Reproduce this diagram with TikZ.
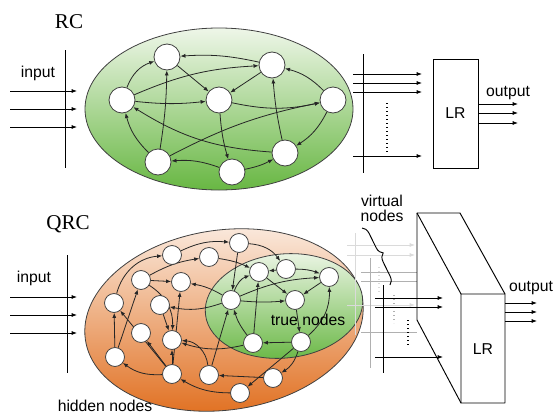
\documentclass[tikz,border=0pt]{standalone}
\usepackage{fontspec}
\setmainfont{Liberation Serif}
\setsansfont{Liberation Sans}
\usetikzlibrary{arrows.meta,decorations.pathreplacing}
\pgfdeclarelayer{bg}
\pgfdeclarelayer{edges}
\pgfsetlayers{bg,edges,main}
\definecolor{gtop}{HTML}{EEF6E8}
\definecolor{gbot}{HTML}{68B743}
\definecolor{otop}{HTML}{FBEDE3}
\definecolor{obot}{HTML}{E06D1C}
\definecolor{lgA}{HTML}{DADADA}
\definecolor{lgB}{HTML}{B0B0B0}
\tikzset{
  rcn/.style={circle, draw=black!75, fill=white, line width=0.6pt, minimum size=19.5pt, inner sep=0pt},
  qn/.style={circle, draw=black!75, fill=white, line width=0.6pt, minimum size=14.2pt, inner sep=0pt},
  edge/.style={draw=black!85, line width=0.6pt, -{Latex[length=3.8pt,width=3pt]}},
  arr/.style={line width=0.6pt, -{Latex[length=4pt,width=3pt]}},
  lbl/.style={font=\sffamily\fontsize{11.8}{9}\selectfont, inner sep=0pt},
  ttl/.style={font=\rmfamily\fontsize{15.8}{17}\selectfont, inner sep=0pt},
  bar/.style={line width=0.6pt},
}
\begin{document}
\begin{tikzpicture}[x=0.75pt,y=-0.75pt]
\useasboundingbox (0,0) rectangle (553,414);

% ---------- ellipses ----------
\begin{pgfonlayer}{bg}
\draw[black!75, line width=0.6pt, top color=gtop, bottom color=gbot]
  (219,109) ellipse [x radius=100.5pt, y radius=60.75pt];
\draw[black!75, line width=0.6pt, top color=otop, bottom color=obot, rotate around={8:(224,320)}]
  (224,320) ellipse [x radius=105pt, y radius=67.5pt];
\draw[black!75, line width=0.6pt, top color=gtop, bottom color=gbot, rotate around={6:(284,306)}]
  (284,306) ellipse [x radius=59.25pt, y radius=39pt];
\end{pgfonlayer}

% ---------- titles and labels ----------
\node[ttl] (tRC) at (69,22) {RC};
\node[ttl] (tQRC) at (68,224) {QRC};
\node[lbl] (in1) at (38,73) {input};
\node[lbl] (in2) at (34,278) {input};
\node[lbl] (out1) at (508,93) {output};
\node[lbl] (out2) at (531,288) {output};
\node[lbl] (tn) at (308,320) {true nodes};
\node[lbl] (hn) at (105,406) {hidden nodes};
\node[lbl, anchor=base] (vn1) at (382,206.5) {virtual};
\node[lbl, anchor=base] (vn2) at (382,221.5) {nodes};

% ---------- RC input ----------
\coordinate (iv1a) at (65,50); \coordinate (iv1b) at (65,168);
\draw[bar] (iv1a) -- (iv1b);
\foreach \y [count=\i] in {91,109,127} {
  \coordinate (ia\i) at (10,\y); \coordinate (ib\i) at (77,\y);
  \draw[arr] (ia\i) -- (ib\i);
}
% ---------- QRC input ----------
\coordinate (iv2a) at (67,255); \coordinate (iv2b) at (67,373);
\draw[bar] (iv2a) -- (iv2b);
\foreach \y [count=\i] in {297,315,333} {
  \coordinate (ja\i) at (10,\y); \coordinate (jb\i) at (77,\y);
  \draw[arr] (ja\i) -- (jb\i);
}

% ---------- RC readout ----------
\coordinate (rv1) at (363,54); \coordinate (rv2) at (363,173);
\draw[bar] (rv1) -- (rv2);
\foreach \y [count=\i] in {74,83,92,156} {
  \coordinate (ra\i) at (353,\y); \coordinate (rb\i) at (422,\y);
  \draw[arr] (ra\i) -- (rb\i);
}
\coordinate (rd1) at (387,103); \coordinate (rd2) at (387,154);
\draw[dotted, line width=1pt] (rd1) -- (rd2);
\node[draw, line width=0.6pt, minimum width=33.75pt, minimum height=81.75pt, inner sep=0pt, lbl] (lr1) at (455.5,113.5) {LR};
\foreach \y [count=\i] in {104,113,123} {
  \coordinate (ro\i) at (518,\y);
  \draw[arr] (ro\i -| lr1.east) -- (ro\i);
}

% ---------- QRC readout: back layers ----------
\coordinate (va1) at (355,233); \coordinate (va2) at (355,335);
\draw[lgA, bar] (va1) -- (va2);
\foreach \y [count=\i] in {245,255,305} {
  \coordinate (pa\i) at (347,\y); \coordinate (pb\i) at (415,\y);
  \draw[lgA, arr] (pa\i) -- (pb\i);
}
\coordinate (da1) at (379,267); \coordinate (da2) at (379,293);
\draw[lgA, dotted, line width=1pt] (da1) -- (da2);

\coordinate (vb1) at (370,258); \coordinate (vb2) at (370,368);
\draw[lgB, bar] (vb1) -- (vb2);
\foreach \y [count=\i] in {272,281,332} {
  \coordinate (qa\i) at (361,\y); \coordinate (qb\i) at (417,\y);
  \draw[lgB, bar] (qa\i) -- (qb\i);
}
\coordinate (db1) at (394,295); \coordinate (db2) at (394,323);
\draw[lgB, dotted, line width=1pt] (db1) -- (db2);

% ---------- LR slab ----------
\coordinate (s1) at (417,213); \coordinate (s2) at (460,213);
\coordinate (s3) at (505,294); \coordinate (s4) at (505,403);
\coordinate (s5) at (461,403); \coordinate (s6) at (417,320);
\coordinate (s7) at (461,294);
\draw[fill=white, line width=0.7pt, line join=round] (s1) -- (s2) -- (s3) -- (s4) -- (s5) -- (s6) -- cycle;
\draw[line width=0.7pt] (s1) -- (s7) -- (s3) (s7) -- (s5);
\node[lbl] (lr2) at (483,349) {LR};

% ---------- QRC readout: front layer ----------
\coordinate (vc1) at (383,285); \coordinate (vc2) at (383,373);
\draw[bar] (vc1) -- (vc2);
\foreach \y [count=\i] in {298,307,357} {
  \coordinate (fa\i) at (375,\y); \coordinate (fb\i) at (443,\y);
  \draw[arr] (fa\i) -- (fb\i);
}
\coordinate (dc1) at (408,320); \coordinate (dc2) at (408,348);
\draw[dotted, line width=1pt] (dc1) -- (dc2);
\foreach \y [count=\i] in {303,312,321} {
  \coordinate (so\i) at (537,\y);
  \draw[arr] (so\i -| s3) -- (so\i);
}

% brace
\coordinate (br1) at (362,228); \coordinate (br2) at (390,285);
\draw[decorate, decoration={brace, amplitude=6pt}, line width=0.7pt] (br1) -- (br2);

% ---------- RC nodes ----------
\node[rcn] (a1) at (167,57) {};
\node[rcn] (a2) at (272,65) {};
\node[rcn] (a3) at (122,100) {};
\node[rcn] (a4) at (219,100) {};
\node[rcn] (a5) at (333,100) {};
\node[rcn] (a6) at (158,162) {};
\node[rcn] (a7) at (232,172) {};
\node[rcn] (a8) at (285,153) {};

\begin{pgfonlayer}{edges}
\draw[edge] (a2) to[bend right=8] (a1);
\draw[edge] (a3) to[bend left=25] (a1);
\draw[edge] (a1) -- (a4);
\draw[edge] (a3) to[bend left=10] (a2);
\draw[edge] (a2) -- (a4);
\draw[edge] (a3) to[bend right=6] (a4);
\draw[edge] (a4) to[bend right=12] (a5);
\draw[edge] (a6) to[bend left=8] (a5);
\draw[edge] (a6) to[bend left=15] (a3);
\draw[edge] (a6) to[bend right=4] (a1);
\draw[edge] (a8) to[bend left=14] (a3);
\draw[edge] (a4) to[bend right=6] (a7);
\draw[edge] (a7) to[bend right=12] (a6);
\draw[edge] (a7) to[bend right=8] (a8);
\draw[edge] (a8) to[bend left=4] (a2);
\draw[edge] (a5) to[bend right=15] (a2);
\draw[edge] (a5) to[bend left=15] (a8);
\end{pgfonlayer}

% ---------- QRC nodes ----------
\node[qn] (h1) at (114,303) {};
\node[qn] (h2) at (172,255) {};
\node[qn] (h3) at (209,257) {};
\node[qn] (h4) at (239,243) {};
\node[qn] (h5) at (141,280) {};
\node[qn] (h6) at (181,282) {};
\node[qn] (h7) at (160,305) {};
\node[qn] (h8) at (141,333) {};
\node[qn] (h9) at (172,340) {};
\node[qn] (h10) at (115,357) {};
\node[qn] (h11) at (172,374) {};
\node[qn] (h12) at (209,375) {};
\node[qn] (h13) at (240,393) {};
\node[qn] (h14) at (273,378) {};
\node[qn] (t1) at (231,300) {};
\node[qn] (t2) at (259,272) {};
\node[qn] (t3) at (286,269) {};
\node[qn] (t4) at (329,277) {};
\node[qn] (t5) at (295,300) {};
\node[qn] (t6) at (253,343) {};
\node[qn] (t7) at (301,342) {};

\begin{pgfonlayer}{edges}
\draw[edge] (h1) to[bend left=35] (h2);
\draw[edge] (h5) to[bend left=10] (h3);
\draw[edge] (h5) -- (h6);
\draw[edge] (h2) to[bend left=15] (h4);
\draw[edge] (h3) to[bend left=8] (t2);
\draw[edge] (h4) -- (t1);
\draw[edge] (h4) to[bend left=25] (t3);
\draw[edge] (t3) -- (t2);
\draw[edge] (t1) to[bend left=25] (t2);
\draw[edge] (t2) -- (t5);
\draw[edge] (t1) to[bend left=10] (t4);
\draw[edge] (t3) to[bend left=10] (t4);
\draw[edge] (t4) -- (t5);
\draw[edge] (t1) to[bend right=5] (t5);
\draw[edge] (t5) -- (t7);
\draw[edge] (t7) to[bend right=25] (t4);
\draw[edge] (t7) -- (t6);
\draw[edge] (t6) to[bend left=10] (t1);
\draw[edge] (t6) -- (t2);
\draw[edge] (h12) -- (t1);
\draw[edge] (t7) -- (h13);
\draw[edge] (t7) to[bend left=20] (h14);
\draw[edge] (h14) -- (h12);
\draw[edge] (h13) to[bend left=15] (h11);
\draw[edge] (h11) to[bend left=20] (h10);
\draw[edge] (h11) -- (h8);
\draw[edge] (h11) -- (h9);
\draw[edge] (h10) -- (h1);
\draw[edge] (h11) -- (h1);
\draw[edge] (h10) -- (h5);
\draw[edge] (t1) to[bend right=10] (h6);
\draw[edge] (t1) to[bend left=15] (h7);
\draw[edge] (h5) to[bend left=30] (h9);
\draw[edge] (h7) -- (h9);
\draw[edge] (h11) -- (h6);
\draw[edge] (t6) to[bend left=15] (h9);
\draw[edge] (h12) to[bend right=40] (h9);
\end{pgfonlayer}
\end{tikzpicture}
\end{document}
